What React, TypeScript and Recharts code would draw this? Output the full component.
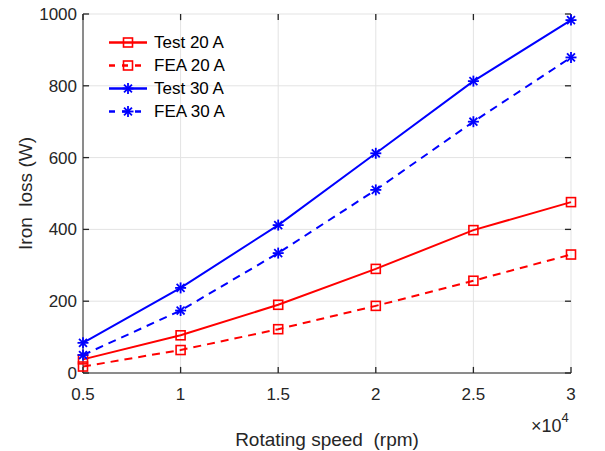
import { LineChart, Line, XAxis, YAxis, CartesianGrid, Legend, Customized, ReferenceLine } from 'recharts';

const speeds = [0.5, 1, 1.5, 2, 2.5, 3];
const test20 = [38, 105, 190, 290, 398, 476];
const fea20 = [18, 64, 122, 187, 257, 330];
const test30 = [84, 237, 412, 612, 813, 983];
const fea30 = [50, 174, 334, 510, 700, 879];
const xTicks = [0.5, 1, 1.5, 2, 2.5, 3];
const yTicks = [0, 200, 400, 600, 800, 1000];

const data = speeds.map((s, i) => ({
    speed: s,
    test20: test20[i],
    fea20: fea20[i],
    test30: test30[i],
    fea30: fea30[i],
}));

const RED = '#ff0000';
const BLUE = '#0000ff';
const AXIS = '#262626';
const FONT = '"Liberation Sans", Arial, sans-serif';

// inward tick length, in data units (about 6px)
const X_TICK_LEN = 0.031;
const Y_TICK_LEN = 17;

const series = [
    { key: 'test20', name: 'Test 20 A', color: RED, dash: undefined, marker: 'square' },
    { key: 'fea20', name: 'FEA 20 A', color: RED, dash: '8 6', marker: 'square' },
    { key: 'test30', name: 'Test 30 A', color: BLUE, dash: undefined, marker: 'star' },
    { key: 'fea30', name: 'FEA 30 A', color: BLUE, dash: '8 6', marker: 'star' },
];

function Marker({ cx, cy, type, color }: { cx: number; cy: number; type: string; color: string }) {
    if (type === 'square') {
        return <rect x={cx - 4.5} y={cy - 4.5} width={9} height={9} fill="none" stroke={color} strokeWidth={1.6} />;
    }
    const r = 5.5;
    const d = r * 0.72;
    return (
        <g stroke={color} strokeWidth={1.8}>
            <line x1={cx - r} y1={cy} x2={cx + r} y2={cy} />
            <line x1={cx} y1={cy - r} x2={cx} y2={cy + r} />
            <line x1={cx - d} y1={cy - d} x2={cx + d} y2={cy + d} />
            <line x1={cx - d} y1={cy + d} x2={cx + d} y2={cy - d} />
        </g>
    );
}

function makeDot(type: string, color: string) {
    return (props: any) => {
        const { cx, cy, index } = props;
        if (cx == null || cy == null) return <g key={index} />;
        return <Marker key={index} cx={cx} cy={cy} type={type} color={color} />;
    };
}

function LegendBox() {
    return (
        <div style={{ fontFamily: FONT, fontSize: 17, color: '#000' }}>
            {series.map((s) => (
                <div key={s.key} style={{ display: 'flex', alignItems: 'center', height: 23 }}>
                    <svg width={40} height={23}>
                        <line x1={1} y1={11.5} x2={39} y2={11.5} stroke={s.color} strokeWidth={2.5} strokeDasharray={s.dash ? '6 7' : undefined} />
                        <Marker cx={20} cy={11.5} type={s.marker} color={s.color} />
                    </svg>
                    <span style={{ marginLeft: 6 }}>{s.name}</span>
                </div>
            ))}
        </div>
    );
}

export default function App() {
    const tickSegs: any[] = [];
    xTicks.forEach((t) => {
        tickSegs.push([{ x: t, y: 0 }, { x: t, y: Y_TICK_LEN }]);
        tickSegs.push([{ x: t, y: 1000 }, { x: t, y: 1000 - Y_TICK_LEN }]);
    });
    yTicks.forEach((t) => {
        tickSegs.push([{ x: 0.5, y: t }, { x: 0.5 + X_TICK_LEN, y: t }]);
        tickSegs.push([{ x: 3, y: t }, { x: 3 - X_TICK_LEN, y: t }]);
    });

    return (
        <div style={{ position: 'absolute', left: 0, top: 0, width: 605, height: 451, background: '#fff' }}>
            <LineChart width={605} height={451} data={data} margin={{ top: 14, right: 34, left: 0, bottom: 0 }}>
                <CartesianGrid stroke="#e3e3e3" strokeWidth={1} />
                <XAxis
                    dataKey="speed"
                    type="number"
                    domain={[0.5, 3]}
                    ticks={xTicks}
                    height={78}
                    stroke={AXIS}
                    tickLine={false}
                    tickSize={-6}
                    tickMargin={21}
                    tick={{ fill: AXIS, fontSize: 17, fontFamily: FONT }}
                    label={{ value: 'Rotating speed\u00a0 (rpm)', position: 'insideBottom', offset: 5, fill: AXIS, fontSize: 19, fontFamily: FONT }}
                />
                <XAxis xAxisId="top" orientation="top" type="number" domain={[0.5, 3]} ticks={xTicks} height={0} stroke={AXIS} tickLine={false} tick={false} />
                <YAxis
                    type="number"
                    domain={[0, 1000]}
                    ticks={yTicks}
                    width={83}
                    stroke={AXIS}
                    tickLine={false}
                    tickSize={-6}
                    tickMargin={12}
                    tick={{ fill: AXIS, fontSize: 17, fontFamily: FONT }}
                    label={{ value: 'Iron\u00a0 loss (W)', angle: -90, position: 'insideLeft', offset: 25, fill: AXIS, fontSize: 19, fontFamily: FONT, style: { textAnchor: 'middle' } }}
                />
                <YAxis yAxisId="right" orientation="right" type="number" domain={[0, 1000]} ticks={yTicks} width={0} stroke={AXIS} tickLine={false} tick={false} />
                {tickSegs.map((seg, i) => (
                    <ReferenceLine key={'tk' + i} segment={seg} stroke={AXIS} strokeWidth={1.3} ifOverflow="visible" />
                ))}
                {series.map((s) => (
                    <Line
                        key={s.key}
                        type="linear"
                        dataKey={s.key}
                        name={s.name}
                        stroke={s.color}
                        strokeWidth={2}
                        strokeDasharray={s.dash}
                        dot={makeDot(s.marker, s.color)}
                        activeDot={false}
                        isAnimationActive={false}
                    />
                ))}
                <Legend
                    layout="vertical"
                    align="center"
                    verticalAlign="middle"
                    content={() => <LegendBox />}
                    wrapperStyle={{ left: 108, top: 31, width: 'auto' }}
                />
                <Customized
                    component={() => (
                        <text x={531} y={432} fill={AXIS} fontFamily={FONT} fontSize={18}>
                            ×10
                            <tspan dy={-10} fontSize={13}>4</tspan>
                        </text>
                    )}
                />
            </LineChart>
        </div>
    );
}
